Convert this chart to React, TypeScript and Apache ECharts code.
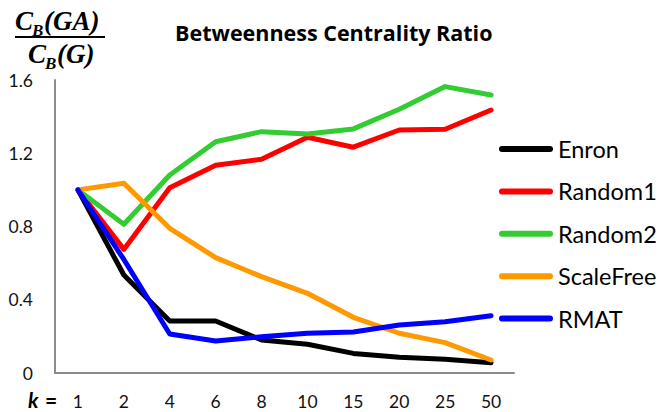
import React, { useEffect, useRef } from "react";
import * as echarts from "echarts";

const categories = ["1", "2", "4", "6", "8", "10", "15", "20", "25", "50"];
const enron = [1.0, 0.535, 0.284, 0.284, 0.18, 0.157, 0.107, 0.086, 0.075, 0.056];
const random1 = [1.0, 0.675, 1.012, 1.134, 1.167, 1.287, 1.233, 1.327, 1.331, 1.436];
const random2 = [1.0, 0.812, 1.081, 1.263, 1.318, 1.305, 1.333, 1.44, 1.564, 1.518];
const scaleFree = [1.0, 1.036, 0.79, 0.63, 0.526, 0.435, 0.304, 0.217, 0.166, 0.071];
const rmat = [1.0, 0.62, 0.213, 0.175, 0.198, 0.217, 0.224, 0.262, 0.28, 0.313];

const seriesNames = ["Enron", "Random1", "Random2", "ScaleFree", "RMAT"];
const seriesData = [enron, random1, random2, scaleFree, rmat];
const colors = ["#000000", "#ff0000", "#33cc33", "#ff9900", "#0000ff"];

const FONT = "Lato, 'Open Sans', sans-serif";
const MATH = "'Liberation Serif', 'DejaVu Serif', serif";

export default function App() {
  const ref = useRef<HTMLDivElement>(null);
  useEffect(() => {
    const chart = echarts.init(ref.current!, null, { renderer: "svg" });
    const mathStyle = (size: number) => ({
      fontFamily: MATH,
      fontWeight: "bold",
      fontStyle: "italic",
      fontSize: size,
      fill: "#000",
    });
    chart.setOption({
      animation: false,
      backgroundColor: "#ffffff",
      title: {
        text: "Betweenness Centrality Ratio",
        left: 175,
        top: 19,
        padding: 0,
        textStyle: { fontFamily: "'Open Sans', Lato, sans-serif", fontWeight: "bold", fontSize: 21.5, lineHeight: 26, color: "#000" },
      },
      grid: { left: 55, right: 149, top: 80, bottom: 39, containLabel: false },
      legend: {
        orient: "vertical",
        left: 499,
        top: 137,
        padding: 0,
        itemWidth: 54,
        itemHeight: 6,
        itemGap: 18.4,
        icon: "path://M3,0 H51 A3,3 0 0 1 51,6 H3 A3,3 0 0 1 3,0 Z",
        textStyle: { fontFamily: FONT, fontSize: 23.5, lineHeight: 24, color: "#000" },
        data: seriesNames,
      },
      xAxis: {
        type: "category",
        data: categories,
        boundaryGap: true,
        axisLine: { show: true, lineStyle: { color: "#8c8c8c", width: 2 } },
        axisTick: { show: false },
        axisLabel: { fontFamily: FONT, fontSize: 17.5, color: "#111", margin: 19 },
        splitLine: { show: false },
      },
      yAxis: {
        type: "value",
        min: 0,
        max: 1.6,
        interval: 0.4,
        axisLine: { show: true, lineStyle: { color: "#8c8c8c", width: 2 } },
        axisTick: { show: false },
        splitLine: { show: false },
        axisLabel: {
          fontFamily: FONT,
          fontSize: 17.5,
          color: "#111",
          margin: 22,
          formatter: (v: number) => (v === 0 ? "0" : v.toFixed(1)),
        },
      },
      series: seriesNames.map((name, i) => ({
        name,
        type: "line",
        data: seriesData[i],
        symbol: "none",
        color: colors[i],
        lineStyle: { color: colors[i], width: 5, cap: "round", join: "round" },
        z: 2 + i,
      })),
      graphic: [
        { type: "text", left: 15, top: 7, style: { text: "C", ...mathStyle(27) } },
        { type: "text", left: 32, top: 22, style: { text: "B", ...mathStyle(17) } },
        { type: "text", left: 44, top: 7, style: { text: "(GA)", ...mathStyle(27) } },
        {
          type: "line",
          shape: { x1: 15, y1: 37, x2: 105, y2: 37 },
          style: { stroke: "#000", lineWidth: 2 },
        },
        { type: "text", left: 28, top: 40, style: { text: "C", ...mathStyle(27) } },
        { type: "text", left: 45, top: 55, style: { text: "B", ...mathStyle(17) } },
        { type: "text", left: 57, top: 40, style: { text: "(G)", ...mathStyle(27) } },
        {
          type: "text",
          x: 28,
          y: 399,
          style: {
            text: "k",
            verticalAlign: "middle",
            fontFamily: FONT,
            fontWeight: "bold",
            fontStyle: "italic",
            fontSize: 21,
            lineHeight: 20,
            fill: "#000",
          },
        },
        {
          type: "text",
          x: 45,
          y: 399,
          style: {
            text: "=",
            verticalAlign: "middle",
            fontFamily: FONT,
            fontWeight: "bold",
            fontSize: 21,
            lineHeight: 20,
            fill: "#000",
          },
        },
      ],
    });
    return () => chart.dispose();
  }, []);
  return <div ref={ref} style={{ width: 663, height: 412, position: "absolute", left: 0, top: 0 }} />;
}
